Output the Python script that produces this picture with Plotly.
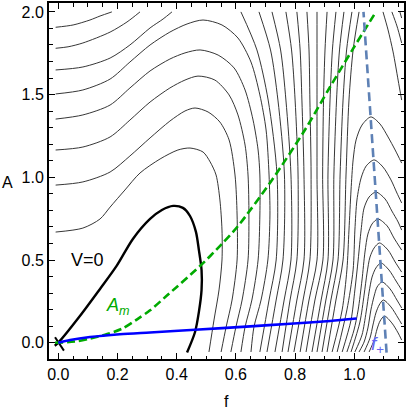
import plotly.graph_objects as go

# ---------------- data ----------------
# V = 0 contour (thick): loop through the saddle at the origin + short crossing branch
v0_loop_f = [-0.012, 0.000, 0.073, 0.141, 0.197, 0.252, 0.310, 0.350, 0.388, 0.421, 0.445, 0.465, 0.475, 0.484, 0.484, 0.475, 0.462, 0.435]
v0_loop_A = [-0.018, 0.000, 0.161, 0.325, 0.464, 0.627, 0.748, 0.802, 0.827, 0.815, 0.766, 0.670, 0.560, 0.439, 0.319, 0.186, 0.065, -0.059]
v0_cross_f = [-0.011, 0.019]
v0_cross_A = [0.033, -0.048]

# contours that start at f=0, peak near f~0.45 and turn down (levels 1..5)
left_arcs_f = [
    [-0.009, 0.083, 0.141, 0.175, 0.225, 0.276, 0.344, 0.404, 0.445, 0.489, 0.513, 0.533, 0.546, 0.553, 0.553, 0.543, 0.526, 0.509],
    [-0.009, 0.083, 0.175, 0.242, 0.310, 0.377, 0.428, 0.462, 0.506, 0.546, 0.577, 0.597, 0.604, 0.604, 0.587, 0.567, 0.550],
    [-0.009, 0.083, 0.175, 0.242, 0.310, 0.377, 0.428, 0.472, 0.529, 0.577, 0.607, 0.631, 0.641, 0.644, 0.641, 0.621, 0.600, 0.583],
    [-0.009, 0.083, 0.175, 0.242, 0.310, 0.377, 0.428, 0.479, 0.540, 0.594, 0.631, 0.658, 0.675, 0.681, 0.681, 0.675, 0.654, 0.631, 0.617],
    [-0.009, 0.083, 0.175, 0.242, 0.310, 0.377, 0.435, 0.489, 0.553, 0.607, 0.651, 0.681, 0.702, 0.712, 0.715, 0.708, 0.685, 0.661, 0.651],
]
left_arcs_A = [
    [0.669, 0.693, 0.748, 0.820, 0.923, 1.026, 1.111, 1.165, 1.177, 1.153, 1.093, 1.014, 0.863, 0.681, 0.500, 0.319, 0.137, -0.056],
    [0.953, 0.972, 1.032, 1.129, 1.238, 1.340, 1.401, 1.419, 1.395, 1.334, 1.226, 1.014, 0.772, 0.500, 0.258, 0.095, -0.056],
    [1.165, 1.183, 1.244, 1.346, 1.455, 1.540, 1.588, 1.612, 1.588, 1.498, 1.377, 1.195, 1.014, 0.772, 0.500, 0.258, 0.095, -0.056],
    [1.352, 1.377, 1.437, 1.540, 1.643, 1.715, 1.752, 1.770, 1.739, 1.661, 1.528, 1.346, 1.165, 1.014, 0.772, 0.500, 0.258, 0.095, -0.056],
    [1.504, 1.528, 1.594, 1.697, 1.800, 1.878, 1.927, 1.951, 1.921, 1.842, 1.697, 1.498, 1.286, 1.014, 0.772, 0.500, 0.258, 0.095, -0.056],
]

# contours that start at f=0 and leave through the top (levels 6..8)
top_exit_f = [
    [-0.009, 0.083, 0.175, 0.242, 0.310, 0.354, 0.384],
    [-0.009, 0.033, 0.083, 0.175, 0.232, 0.276],
    [-0.009, 0.050, 0.107, 0.141, 0.181],
]
top_exit_A = [
    [1.649, 1.667, 1.721, 1.800, 1.903, 1.957, 2.000],
    [1.780, 1.789, 1.812, 1.878, 1.939, 2.000],
    [1.907, 1.921, 1.951, 1.975, 2.000],
]

# near-vertical contours from the top edge to the bottom edge (levels 6..17)
vertical_A = [2.000, 1.770, 1.467, 1.014, 0.500, 0.258, -0.056]
vertical_f = [
    [0.617, 0.671, 0.709, 0.739, 0.736, 0.712, 0.681],
    [0.678, 0.717, 0.742, 0.764, 0.759, 0.736, 0.705],
    [0.722, 0.751, 0.769, 0.786, 0.786, 0.763, 0.732],
    [0.769, 0.788, 0.800, 0.810, 0.806, 0.783, 0.756],
    [0.806, 0.817, 0.823, 0.830, 0.830, 0.806, 0.776],
    [0.840, 0.847, 0.850, 0.854, 0.850, 0.827, 0.796],
    [0.874, 0.874, 0.874, 0.874, 0.874, 0.847, 0.817],
    [0.908, 0.901, 0.896, 0.893, 0.894, 0.867, 0.837],
    [0.938, 0.926, 0.918, 0.911, 0.911, 0.888, 0.857],
    [0.965, 0.950, 0.940, 0.931, 0.928, 0.904, 0.874],
    [0.992, 0.974, 0.962, 0.952, 0.945, 0.921, 0.891],
    [1.016, 0.996, 0.982, 0.972, 0.962, 0.938, 0.908],
]

# arch-shaped contours around the ridge f_+ (levels 18..26)
ridge_arcs_f = [
    [0.925, 0.959, 0.975, 0.982, 0.989, 0.996, 1.006, 1.026, 1.056, 1.087, 1.114, 1.138, 1.160],
    [0.942, 0.975, 0.996, 1.002, 1.009, 1.023, 1.040, 1.067, 1.097, 1.124, 1.144, 1.160],
    [0.959, 0.989, 1.002, 1.013, 1.023, 1.033, 1.050, 1.073, 1.104, 1.127, 1.148, 1.160],
    [0.975, 0.999, 1.013, 1.026, 1.036, 1.046, 1.060, 1.080, 1.111, 1.134, 1.160],
    [0.989, 1.019, 1.033, 1.043, 1.053, 1.067, 1.085, 1.114, 1.138, 1.160],
    [1.002, 1.026, 1.040, 1.050, 1.060, 1.073, 1.090, 1.117, 1.141, 1.160],
    [1.016, 1.033, 1.046, 1.056, 1.067, 1.077, 1.094, 1.121, 1.144, 1.160],
    [1.033, 1.053, 1.063, 1.073, 1.084, 1.098, 1.124, 1.148, 1.160],
    [1.050, 1.067, 1.077, 1.087, 1.102, 1.127, 1.148, 1.160],
]
ridge_arcs_A = [
    [-0.056, 0.198, 0.440, 0.681, 0.923, 1.105, 1.226, 1.316, 1.365, 1.322, 1.244, 1.165, 1.086],
    [-0.056, 0.198, 0.440, 0.681, 0.863, 0.996, 1.068, 1.105, 1.062, 0.984, 0.905, 0.845],
    [-0.056, 0.137, 0.319, 0.500, 0.681, 0.814, 0.881, 0.911, 0.869, 0.796, 0.730, 0.681],
    [-0.056, 0.077, 0.198, 0.379, 0.548, 0.657, 0.718, 0.748, 0.706, 0.633, 0.560],
    [-0.056, 0.125, 0.288, 0.421, 0.518, 0.573, 0.603, 0.560, 0.488, 0.427],
    [-0.056, 0.047, 0.186, 0.307, 0.397, 0.452, 0.482, 0.440, 0.373, 0.319],
    [-0.056, 0.004, 0.089, 0.198, 0.282, 0.337, 0.367, 0.325, 0.258, 0.210],
    [-0.056, 0.028, 0.107, 0.180, 0.228, 0.258, 0.216, 0.149, 0.113],
    [-0.056, 0.016, 0.083, 0.131, 0.161, 0.119, 0.059, 0.016],
]

# contours right of the ridge in the upper-right corner (levels 17, 16, 15)
right_branch_f = [
    [1.097, 1.114, 1.131, 1.148, 1.160],
    [1.127, 1.144, 1.160],
    [1.154, 1.160],
]
right_branch_A = [
    [2.000, 1.891, 1.758, 1.588, 1.467],
    [2.000, 1.915, 1.812],
    [2.000, 1.963],
]

# A_m curve (green dashed)
am_f = [-0.011, 0.056, 0.107, 0.165, 0.219, 0.265, 0.310, 0.367, 0.479, 0.553, 0.607, 0.722, 0.833, 0.918, 0.995, 1.073]
am_A = [0.000, 0.007, 0.025, 0.052, 0.088, 0.140, 0.196, 0.285, 0.464, 0.598, 0.705, 0.984, 1.286, 1.546, 1.775, 2.000]

# blue solid curve
blue_f = [0.000, 0.040, 0.107, 0.208, 0.310, 0.462, 0.648, 0.783, 0.918, 1.008]
blue_A = [0.000, 0.016, 0.034, 0.051, 0.062, 0.078, 0.099, 0.115, 0.131, 0.146]

# f_+ line (steel-blue dashed)
fplus_f = [1.109, 1.031]
fplus_A = [-0.060, 2.000]

x_ticks = [0.0, 0.2, 0.4, 0.6, 0.8, 1.0]
x_ticktext = ["0.0", "0.2", "0.4", "0.6", "0.8", "1.0"]
y_ticks = [0.0, 0.5, 1.0, 1.5, 2.0]
y_ticktext = ["0.0", "0.5", "1.0", "1.5", "2.0"]

# ---------------- figure ----------------
FONT = "Liberation Sans, Arial, Helvetica, sans-serif"
CONTOUR_COLOR = "#2b2b2b"
fig = go.Figure()


def add_line(fx, ay, color=CONTOUR_COLOR, width=0.95, dash=None, spline=True):
    line = dict(color=color, width=width)
    if spline:
        line.update(shape="spline", smoothing=0.8)
    if dash:
        line["dash"] = dash
    fig.add_trace(go.Scatter(x=fx, y=ay, mode="lines", line=line,
                             hoverinfo="skip", showlegend=False))


for fx, ay in zip(left_arcs_f, left_arcs_A):
    add_line(fx, ay)
for fx, ay in zip(top_exit_f, top_exit_A):
    add_line(fx, ay)
for fx in vertical_f:
    add_line(fx, vertical_A)
for fx, ay in zip(ridge_arcs_f, ridge_arcs_A):
    add_line(fx, ay)
for fx, ay in zip(right_branch_f, right_branch_A):
    add_line(fx, ay)

# V = 0
add_line(v0_loop_f, v0_loop_A, color="black", width=2.4)
add_line(v0_cross_f, v0_cross_A, color="black", width=2.0, spline=False)

# A_m, blue curve, f_+
add_line(am_f, am_A, color="#00AA00", width=2.6, dash="8px,4px")
add_line(blue_f, blue_A, color="#0000FF", width=2.6)
add_line(fplus_f, fplus_A, color="#5E81B5", width=2.6, dash="9px,5px", spline=False)

ann = dict(showarrow=False, xanchor="center", yanchor="middle")
fig.add_annotation(x=0.100, y=0.500, text="V=0",
                   font=dict(family=FONT, size=18, color="black"), **ann)
fig.add_annotation(x=0.202, y=0.218, text="<i>A</i><sub><i>m</i></sub>",
                   font=dict(family=FONT, size=18, color="#00AA00"), **ann)
fig.add_annotation(x=1.079, y=-0.012, text="<i>f</i><sub>+</sub>",
                   font=dict(family=FONT, size=19, color="#6464F0"), **ann)
# axis titles
fig.add_annotation(xref="paper", yref="paper", x=0.4986, y=-0.119, text="f",
                   font=dict(family=FONT, size=16, color="black"), **ann)
fig.add_annotation(xref="paper", yref="paper", x=-0.118, y=0.497, text="A",
                   font=dict(family=FONT, size=16, color="black"), **ann)

axis_common = dict(
    showgrid=False, zeroline=False, showline=True, linecolor="black", linewidth=2,
    mirror="allticks", ticks="inside", ticklen=6, tickwidth=1.3, tickcolor="black",
    tickfont=dict(family=FONT, size=16, color="black"), tickmode="array",
    automargin=False,
)
fig.update_xaxes(range=[-0.0314, 1.1679], tickvals=x_ticks, ticktext=x_ticktext,
                 minor=dict(tickmode="linear", tick0=0, dtick=0.05, ticks="inside",
                            ticklen=3.5, tickwidth=1, tickcolor="black"),
                 **axis_common)
fig.update_yaxes(range=[-0.0985, 2.0538], tickvals=y_ticks, ticktext=y_ticktext,
                 minor=dict(tickmode="linear", tick0=0, dtick=0.1, ticks="inside",
                            ticklen=3.5, tickwidth=1, tickcolor="black"),
                 **axis_common)

fig.update_layout(
    template="none",
    width=407, height=412,
    margin=dict(l=49, r=3, t=3, b=53, autoexpand=False),
    paper_bgcolor="white", plot_bgcolor="white",
    showlegend=False,
)

# remove the browser's default 8px page margin so the figure sits at (0, 0)
fig.write_html(
    "out.html",
    config={"responsive": False, "displayModeBar": False},
    post_script="document.body.style.margin='0';document.body.style.padding='0';"
                "document.documentElement.style.overflow='hidden';",
)
